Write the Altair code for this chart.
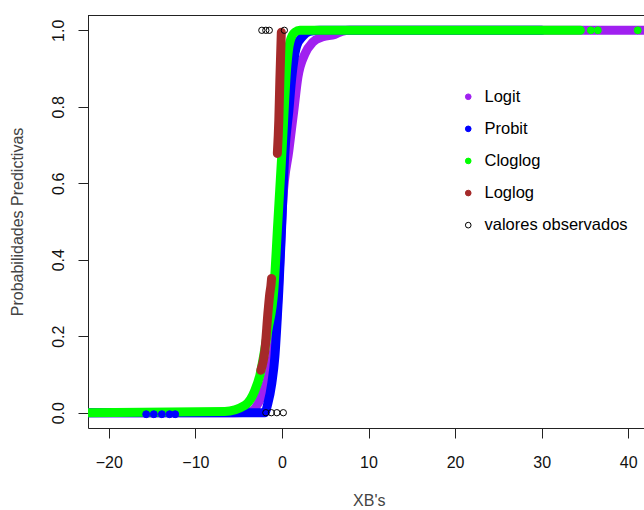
import altair as alt
import pandas as pd

# ---------------- values ----------------
series_names = ["Logit", "Probit", "Cloglog", "Loglog", "valores observados"]
series_colors = ["#a020f0", "#0000ff", "#00ff00", "#a52a2a", "#000000"]
series_fills = ["#a020f0", "#0000ff", "#00ff00", "#a52a2a", "transparent"]

logit_x = [-22.4, -5.5, -3.71, -2.32, -1.40, -0.70, -0.24, 0.10, 0.80, 1.37, 1.84, 2.65, 3.57, 4.72, 6.10, 6.92, 7.84, 43.0]
logit_y = [0.0, 0.0, 0.003, 0.045, 0.111, 0.215, 0.398, 0.555, 0.686, 0.790, 0.877, 0.938, 0.969, 0.983, 0.989, 0.997, 1.0, 1.0]

probit_x = [-22.4, -1.98, -1.63, -1.17, -0.82, -0.47, -0.36, -0.01, 0.34, 0.80, 1.14, 1.72, 2.41, 3.22, 4.38, 30.0]
probit_y = [0.0, 0.0, 0.024, 0.077, 0.145, 0.275, 0.320, 0.500, 0.681, 0.790, 0.877, 0.960, 0.984, 0.997, 1.0, 1.0]

cloglog_x = [-22.4, -6.6, -4.29, -3.13, -2.55, -1.63, -0.94, -0.47, 0.00, 0.57, 0.91, 1.49, 2.07, 34.47]
cloglog_y = [0.0, 0.003, 0.019, 0.058, 0.098, 0.215, 0.320, 0.500, 0.681, 0.908, 0.969, 0.995, 1.0, 1.0]

loglog_low_x = [-2.44, -1.97, -1.59, -1.40, -1.27, -1.20]
loglog_low_y = [0.111, 0.163, 0.268, 0.312, 0.333, 0.351]
loglog_high_x = [-0.53, -0.36, -0.24, -0.07]
loglog_high_y = [0.678, 0.765, 0.869, 0.995]

probit_dots_x = [-15.68, -14.80, -13.87, -12.98, -12.33]
probit_dots_y = [-0.004, -0.004, -0.004, -0.004, -0.004]
cloglog_dots_x = [35.68, 36.49, 41.10]
cloglog_dots_y = [1.0, 1.0, 1.0]

obs_one_x = [-2.32, -1.86, -1.46, 0.28]
obs_one_y = [1.0, 1.0, 1.0, 1.0]
obs_zero_x = [-1.86, -1.22, -0.59, 0.16]
obs_zero_y = [0.0, 0.0, 0.0, 0.0]

x_ticks = [-20, -10, 0, 10, 20, 30, 40]
y_ticks = [0.0, 0.2, 0.4, 0.6, 0.8, 1.0]
x_domain = [-22.4, 41.82]
y_domain = [-0.04, 1.04]

# ---------------- tables ----------------
def line_df(xs, ys, seg=0):
    return pd.DataFrame({"x": xs, "y": ys, "seg": [seg] * len(xs)})

logit_df = line_df(logit_x, logit_y)
probit_df = line_df(probit_x, probit_y)
cloglog_df = line_df(cloglog_x, cloglog_y)
loglog_df = pd.concat([line_df(loglog_low_x, loglog_low_y, 0),
                       line_df(loglog_high_x, loglog_high_y, 1)], ignore_index=True)

dots_df = pd.concat([
    pd.DataFrame({"x": probit_dots_x, "y": probit_dots_y, "serie": "Probit"}),
    pd.DataFrame({"x": cloglog_dots_x, "y": cloglog_dots_y, "serie": "Cloglog"}),
], ignore_index=True)
obs_df = pd.concat([
    pd.DataFrame({"x": obs_one_x, "y": obs_one_y, "serie": "valores observados"}),
    pd.DataFrame({"x": obs_zero_x, "y": obs_zero_y, "serie": "valores observados"}),
], ignore_index=True)

FONT = "Liberation Sans"

x_enc = alt.X("x:Q",
              scale=alt.Scale(domain=x_domain, nice=False, zero=False),
              axis=alt.Axis(values=x_ticks, title="XB's", grid=False,
                            tickSize=10, labelPadding=16, labelFontSize=16,
                            labelFont=FONT, labelColor="#111", tickColor="#222",
                            domainColor="#222", labelFlush=False,
                            titleFont=FONT, titleFontSize=16, titleFontWeight="normal",
                            titleColor="#444", titleX=280.8, titleY=72,
                            titleBaseline="middle", titleAlign="center"))
y_enc = alt.Y("y:Q",
              scale=alt.Scale(domain=y_domain, nice=False, zero=False),
              axis=alt.Axis(values=y_ticks, format=".1f", title="Probabilidades Predictivas",
                            grid=False, tickSize=10, labelPadding=20, labelAngle=270,
                            labelAlign="center", labelBaseline="middle",
                            labelFontSize=16, labelFont=FONT, labelColor="#111",
                            tickColor="#222", domainColor="#222", labelFlush=False,
                            titleFont=FONT, titleFontSize=16, titleFontWeight="normal",
                            titleColor="#444", titleAngle=270, titleX=-71, titleY=206.5,
                            titleBaseline="middle", titleAlign="center"))

def curve(df, color):
    return alt.Chart(df).mark_line(
        color=color, strokeWidth=9, strokeCap="round", strokeJoin="round",
        interpolate="monotone", clip=True
    ).encode(x=x_enc, y=y_enc, detail="seg:N")

logit_line = curve(logit_df, series_colors[0])
probit_line = curve(probit_df, series_colors[1])
cloglog_line = curve(cloglog_df, series_colors[2])
loglog_line = curve(loglog_df, series_colors[3])

legend_opts = dict(title=None, orient="none", legendX=372, legendY=73.5,
                   labelFontSize=16.5, labelFont=FONT, labelColor="#000",
                   symbolSize=32, symbolStrokeWidth=1, labelOffset=8,
                   rowPadding=15.1, padding=0)

def point_layer(df, size):
    return alt.Chart(df).mark_point(opacity=1, strokeWidth=1, size=size, clip=True).encode(
        x=x_enc, y=y_enc,
        stroke=alt.Stroke("serie:N", scale=alt.Scale(domain=series_names, range=series_colors),
                          legend=alt.Legend(**legend_opts)),
        fill=alt.Fill("serie:N", scale=alt.Scale(domain=series_names, range=series_fills),
                      legend=alt.Legend(**legend_opts)),
    )

dots = point_layer(dots_df, 48)
observed = point_layer(obs_df, 40)

top_border = alt.Chart(obs_df).mark_rule(color="#222", strokeWidth=1).encode(
    x=alt.value(0), x2=alt.value(556), y=alt.value(0.5))

chart = alt.layer(
    logit_line, probit_line, cloglog_line, loglog_line, dots, observed, top_border
).properties(
    width=556, height=413,
    autosize=alt.AutoSizeParams(type="none"),
    padding={"left": 88, "top": 15, "right": 0, "bottom": 82},
    background="white",
).configure_view(stroke="transparent")

chart.save("out.html", embed_options={"renderer": "svg", "actions": False})
